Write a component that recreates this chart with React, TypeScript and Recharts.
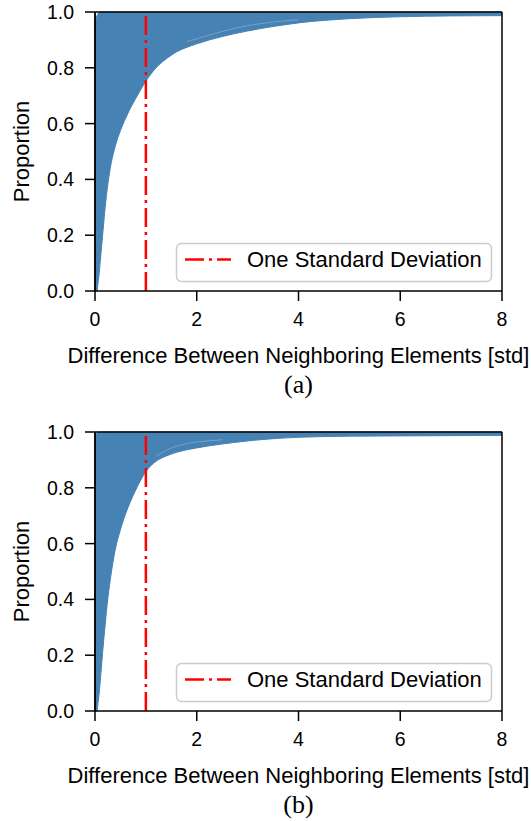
import { ComposedChart, Area, Line, XAxis, YAxis, ReferenceLine } from "recharts"

// x positions (std units) shared by both panels
const xs = [0, 0.02, 0.04, 0.06, 0.08, 0.1, 0.15, 0.2, 0.25, 0.3, 0.4, 0.5, 0.6, 0.7, 0.8, 0.9, 1.0, 1.2, 1.4, 1.6, 1.8, 2.0, 2.5, 3.0, 3.5, 4.0, 5.0, 6.0, 7.0, 8.0]

// panel (a): slowest and fastest cumulative curves of the bundle
const aSlow = [0, 0, 0, 0.03, 0.06, 0.1, 0.2, 0.3, 0.38, 0.44, 0.52, 0.575, 0.618, 0.657, 0.69, 0.722, 0.752, 0.8, 0.832, 0.857, 0.873, 0.886, 0.912, 0.932, 0.948, 0.961, 0.976, 0.983, 0.986, 0.987]
const aFast = [0.953, 0.975, 0.987, 0.994, 0.998, 1, 1, 1, 1, 1, 1, 1, 1, 1, 1, 1, 1, 1, 1, 1, 1, 1, 1, 1, 1, 1, 1, 1, 1, 1]
const aGap = [null, null, null, null, null, null, null, null, null, null, null, null, null, null, null, null, null, null, null, null, 0.893, 0.904, 0.93, 0.951, 0.964, 0.972, null, null, null, null]

// panel (b)
const bSlow = [0, 0, 0, 0.03, 0.06, 0.1, 0.21, 0.31, 0.4, 0.47, 0.58, 0.65, 0.706, 0.752, 0.792, 0.828, 0.858, 0.895, 0.914, 0.927, 0.936, 0.943, 0.957, 0.968, 0.976, 0.981, 0.985, 0.986, 0.987, 0.988]
const bFast = [0.984, 0.992, 0.997, 0.999, 1, 1, 1, 1, 1, 1, 1, 1, 1, 1, 1, 1, 1, 1, 1, 1, 1, 1, 1, 1, 1, 1, 1, 1, 1, 1]
const bGap = [null, null, null, null, null, null, null, null, null, null, null, null, null, null, null, null, null, 0.913, 0.934, 0.949, 0.958, 0.964, 0.972, null, null, null, null, null, null, null]

const xTicks = [0, 2, 4, 6, 8]
const yTicks = [0, 0.2, 0.4, 0.6, 0.8, 1.0]
const stdLine = 1
const xLabel = "Difference Between Neighboring Elements [std]"
const yLabel = "Proportion"
const legendLabel = "One Standard Deviation"

const BLUE = "#4682b4"
const RED = "#ff0000"
const SANS = "'Liberation Sans', Arial, Helvetica, sans-serif"
const SERIF = "'Liberation Serif', 'Times New Roman', serif"

function Panel({ slow, fast, gap, tag, top }: { slow: number[]; fast: number[]; gap: (number | null)[]; tag: string; top: number }) {
    const rows = xs.map((x, i) => ({ x, band: [slow[i], fast[i]], gap: gap[i] }))
    const tickStyle = { fill: "#000", fontSize: 19.5, fontFamily: SANS }
    const lineStyle = { stroke: "#000", strokeWidth: 1.5 }

    return (
        <div style={{ position: "absolute", left: 0, top, width: 531, height: 400 }}>
            <ComposedChart width={531} height={372} data={rows} margin={{ top: 12, right: 29, bottom: 0, left: 0 }}>
                <XAxis
                    dataKey="x"
                    type="number"
                    domain={[0, 8]}
                    ticks={xTicks}
                    height={81}
                    tick={tickStyle}
                    axisLine={lineStyle}
                    tickLine={lineStyle}
                    tickSize={10}
                    tickMargin={11}
                    label={{ value: xLabel, position: "insideBottom", offset: 9, fill: "#000", fontSize: 22, fontFamily: SANS }}
                />
                <YAxis
                    type="number"
                    domain={[0, 1]}
                    ticks={yTicks}
                    width={95}
                    tick={tickStyle}
                    axisLine={lineStyle}
                    tickLine={lineStyle}
                    tickSize={10}
                    tickMargin={11}
                    tickFormatter={(v: number) => v.toFixed(1)}
                    label={{ value: yLabel, angle: -90, position: "insideLeft", offset: 21, fill: "#000", fontSize: 22, fontFamily: SANS, style: { textAnchor: "middle" } }}
                />
                <Area
                    dataKey="band"
                    type="monotone"
                    fill={BLUE}
                    fillOpacity={1}
                    stroke={BLUE}
                    strokeWidth={1}
                    isAnimationActive={false}
                />
                <Line
                    dataKey="gap"
                    type="monotone"
                    stroke="#ffffff"
                    strokeOpacity={0.25}
                    strokeWidth={1}
                    dot={false}
                    activeDot={false}
                    isAnimationActive={false}
                />
                <ReferenceLine x={stdLine} stroke={RED} strokeWidth={2.5} strokeDasharray="19 5 3 5" />
                <ReferenceLine y={1} stroke="#000" strokeWidth={1.5} />
                <ReferenceLine x={8} stroke="#000" strokeWidth={1.5} />
                <ReferenceLine x={0} stroke="#000" strokeWidth={1.5} />
            </ComposedChart>
            <svg width={531} height={400} style={{ position: "absolute", left: 0, top: 0, pointerEvents: "none" }}>
                <rect x={176.5} y={243.5} width={315} height={38} rx={5} fill="#fff" stroke="#cccccc" strokeWidth={1.5} />
                <line x1={185} x2={231} y1={259.5} y2={259.5} stroke={RED} strokeWidth={2.5} strokeDasharray="19 5 3 5" />
                <text x={247} y={266.5} fontSize={22} fontFamily={SANS} fill="#000">{legendLabel}</text>
                <text x={298.5} y={393} fontSize={26} fontFamily={SERIF} fill="#000" textAnchor="middle">{tag}</text>
            </svg>
        </div>
    )
}

export default function App() {
    return (
        <div style={{ position: "absolute", left: 0, top: 0, width: 531, height: 821, background: "#fff" }}>
            <Panel slow={aSlow} fast={aFast} gap={aGap} tag="(a)" top={0} />
            <Panel slow={bSlow} fast={bFast} gap={bGap} tag="(b)" top={420} />
        </div>
    )
}
